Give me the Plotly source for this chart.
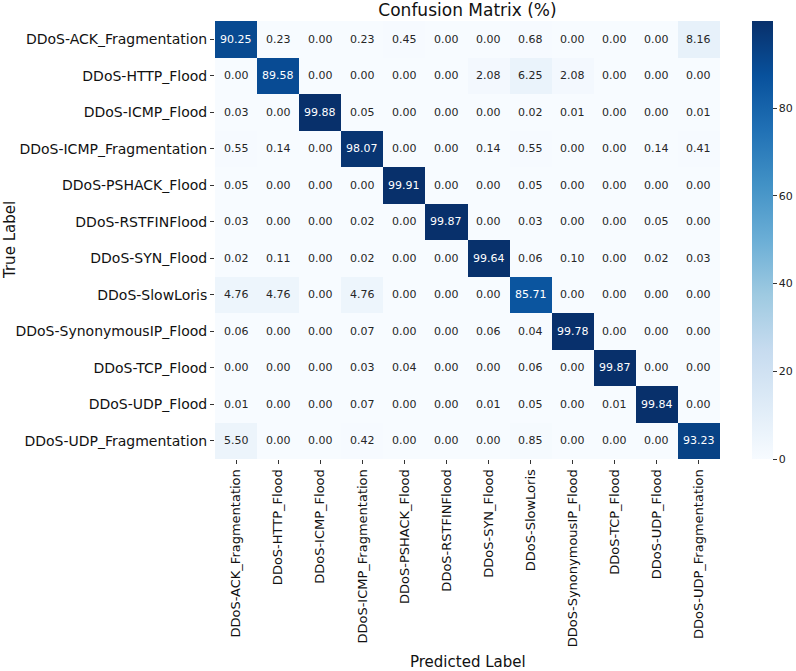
import plotly.graph_objects as go

labels = ["DDoS-ACK_Fragmentation", "DDoS-HTTP_Flood", "DDoS-ICMP_Flood",
          "DDoS-ICMP_Fragmentation", "DDoS-PSHACK_Flood", "DDoS-RSTFINFlood",
          "DDoS-SYN_Flood", "DDoS-SlowLoris", "DDoS-SynonymousIP_Flood",
          "DDoS-TCP_Flood", "DDoS-UDP_Flood", "DDoS-UDP_Fragmentation"]

row_ack_frag = [90.25, 0.23, 0.00, 0.23, 0.45, 0.00, 0.00, 0.68, 0.00, 0.00, 0.00, 8.16]
row_http = [0.00, 89.58, 0.00, 0.00, 0.00, 0.00, 2.08, 6.25, 2.08, 0.00, 0.00, 0.00]
row_icmp = [0.03, 0.00, 99.88, 0.05, 0.00, 0.00, 0.00, 0.02, 0.01, 0.00, 0.00, 0.01]
row_icmp_frag = [0.55, 0.14, 0.00, 98.07, 0.00, 0.00, 0.14, 0.55, 0.00, 0.00, 0.14, 0.41]
row_pshack = [0.05, 0.00, 0.00, 0.00, 99.91, 0.00, 0.00, 0.05, 0.00, 0.00, 0.00, 0.00]
row_rstfin = [0.03, 0.00, 0.00, 0.02, 0.00, 99.87, 0.00, 0.03, 0.00, 0.00, 0.05, 0.00]
row_syn = [0.02, 0.11, 0.00, 0.02, 0.00, 0.00, 99.64, 0.06, 0.10, 0.00, 0.02, 0.03]
row_slowloris = [4.76, 4.76, 0.00, 4.76, 0.00, 0.00, 0.00, 85.71, 0.00, 0.00, 0.00, 0.00]
row_synonymous = [0.06, 0.00, 0.00, 0.07, 0.00, 0.00, 0.06, 0.04, 99.78, 0.00, 0.00, 0.00]
row_tcp = [0.00, 0.00, 0.00, 0.03, 0.04, 0.00, 0.00, 0.06, 0.00, 99.87, 0.00, 0.00]
row_udp = [0.01, 0.00, 0.00, 0.07, 0.00, 0.00, 0.01, 0.05, 0.00, 0.01, 99.84, 0.00]
row_udp_frag = [5.50, 0.00, 0.00, 0.42, 0.00, 0.00, 0.00, 0.85, 0.00, 0.00, 0.00, 93.23]

z = [row_ack_frag, row_http, row_icmp, row_icmp_frag, row_pshack, row_rstfin,
     row_syn, row_slowloris, row_synonymous, row_tcp, row_udp, row_udp_frag]

blues = ["#f7fbff", "#deebf7", "#c6dbef", "#9ecae1", "#6baed6",
         "#4292c6", "#2171b5", "#08519c", "#08306b"]
colorscale = [[i / (len(blues) - 1), c] for i, c in enumerate(blues)]

FONT = "DejaVu Sans"
L, R, T, B = 215, 76, 21, 212
PW = 796 - L - R
PH = 671 - T - B

fig = go.Figure(go.Heatmap(
    z=z, x=labels, y=labels, colorscale=colorscale,
    zmin=0, zmax=max(max(r) for r in z),
    colorbar=dict(
        x=(752 - L) / PW, xanchor="left", xpad=0, y=0, yanchor="bottom",
        ypad=0, len=1, lenmode="fraction", thickness=21,
        thicknessmode="pixels", outlinewidth=0,
        tickvals=[0, 20, 40, 60, 80], ticks="outside", ticklen=4,
        tickcolor="#333",
        tickfont=dict(family=FONT, size=11, color="#222"),
    ),
    hoverinfo="skip",
))

annotations = []
for i, row in enumerate(z):
    for j, v in enumerate(row):
        annotations.append(dict(
            x=labels[j], y=labels[i], text=f"{v:.2f}", showarrow=False,
            font=dict(family=FONT, size=11,
                      color="white" if v > 50 else "#262626"),
        ))

annotations.append(dict(
    text="True Label", xref="paper", yref="paper",
    x=(10 - L) / PW, y=0.5, textangle=-90, showarrow=False,
    xanchor="center", yanchor="middle",
    font=dict(family=FONT, size=15, color="#111")))
annotations.append(dict(
    text="Predicted Label", xref="paper", yref="paper",
    x=0.5, y=-(662 - (T + PH)) / PH, showarrow=False,
    xanchor="center", yanchor="middle",
    font=dict(family=FONT, size=15, color="#111")))

fig.update_layout(
    width=796, height=671,
    margin=dict(l=L, r=R, t=T, b=B, autoexpand=False),
    paper_bgcolor="white", plot_bgcolor="white",
    title=dict(text="Confusion Matrix (%)", x=(L + 720) / 2 / 796,
               xanchor="center", y=1 - 10 / 671, yanchor="middle",
               font=dict(family=FONT, size=17, color="#111")),
    xaxis=dict(tickangle=-90, ticks="outside", ticklen=4, tickcolor="#333",
               tickfont=dict(family=FONT, size=13, color="#111"),
               showgrid=False, zeroline=False, showline=False),
    yaxis=dict(autorange="reversed", ticks="outside", ticklen=4,
               tickcolor="#333",
               tickfont=dict(family=FONT, size=14, color="#111"),
               showgrid=False, zeroline=False, showline=False),
    annotations=annotations,
)

fig.write_html("out.html")
